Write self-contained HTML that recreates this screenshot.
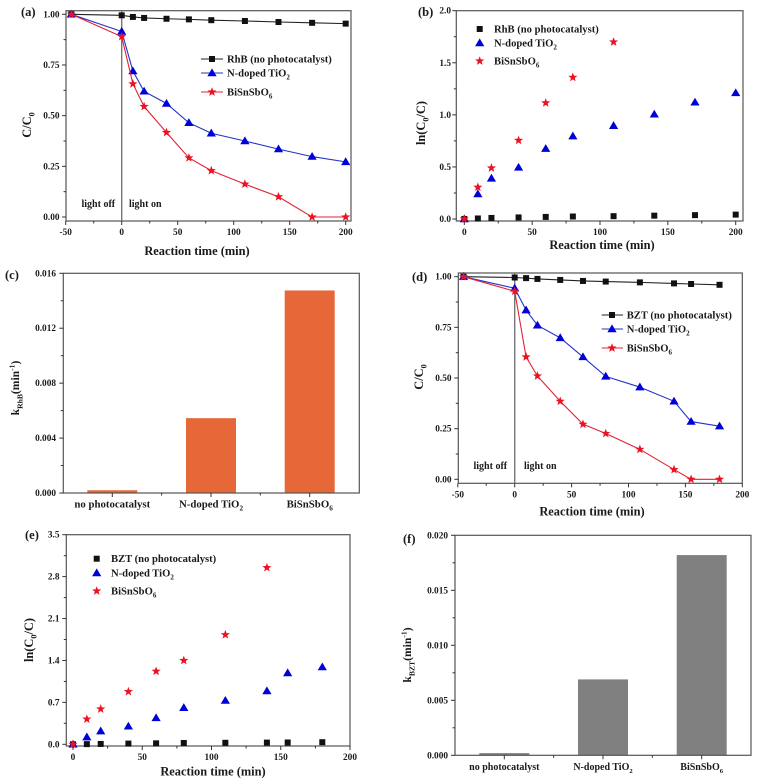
<!DOCTYPE html>
<html lang="en">
<head>
<meta charset="utf-8">
<title>Photocatalytic degradation charts</title>
<style>
html,body{margin:0;padding:0;background:#fff;width:758px;height:784px;overflow:hidden}
svg{display:block;filter:blur(0.35px)}
text{font-family:"Liberation Serif",serif;font-weight:bold;fill:#1a1a1a}
</style>
</head>
<body>
<svg id="figure" xmlns="http://www.w3.org/2000/svg" width="758" height="784" viewBox="0 0 758 784"></svg>
<script>
// ---- Panel (a) data ----
const aTimes = [-45, 0, 10, 20, 40, 60, 80, 110, 140, 170, 200];
const aControl = [1, 0.995, 0.987, 0.982, 0.978, 0.975, 0.971, 0.967, 0.962, 0.958, 0.954];
const aTiO2 = [1, 0.915, 0.72, 0.62, 0.56, 0.465, 0.413, 0.375, 0.335, 0.298, 0.272];
const aBi = [1, 0.89, 0.657, 0.545, 0.417, 0.292, 0.229, 0.162, 0.1, 0, 0];
// ---- Panel (b) data ----
const bTimes = [0, 10, 20, 40, 60, 80, 110, 140, 170, 200];
const bControl = [0, 0.005, 0.01, 0.015, 0.02, 0.024, 0.027, 0.032, 0.037, 0.042];
const bTiO2 = [0, 0.24, 0.39, 0.495, 0.675, 0.795, 0.895, 1.005, 1.12, 1.21];
const bBi = [0, 0.305, 0.49, 0.755, 1.115, 1.36, 1.7];
// ---- Panel (c) data ----
const barCategories = ["no photocatalyst", "N-doped TiO2", "BiSnSbO6"];
const cRates = [0.0002, 0.00545, 0.01475];
// ---- Panel (d) data ----
const dTimes = [-45, 0, 10, 20, 40, 60, 80, 110, 140, 155, 180];
const dControl = [1, 0.996, 0.993, 0.989, 0.984, 0.979, 0.976, 0.972, 0.967, 0.964, 0.96];
const dTiO2 = [1, 0.943, 0.835, 0.76, 0.698, 0.604, 0.508, 0.455, 0.385, 0.285, 0.262];
const dBi = [1, 0.928, 0.604, 0.51, 0.385, 0.272, 0.226, 0.148, 0.048, 0, 0];
// ---- Panel (e) data ----
const eTimes = [0, 10, 20, 40, 60, 80, 110, 140, 155, 180];
const eControl = [0, 0.003, 0.006, 0.012, 0.016, 0.022, 0.025, 0.028, 0.03, 0.035];
const eTiO2 = [0, 0.12, 0.22, 0.3, 0.44, 0.61, 0.73, 0.89, 1.19, 1.29];
const eBi = [0, 0.42, 0.59, 0.88, 1.22, 1.4, 1.83, 2.95];
// ---- Panel (f) data ----
const fRates = [0.0002, 0.0069, 0.0182];
// ---- Tick labels ----
const xTicksAD = [-50, 0, 50, 100, 150, 200];
const xTicksBE = [0, 50, 100, 150, 200];
const yTicksAD = ["0.00", "0.25", "0.50", "0.75", "1.00"];
const yTicksB = ["0.0", "0.5", "1.0", "1.5", "2.0"];
const yTicksC = ["0.000", "0.004", "0.008", "0.012", "0.016"];
const yTicksE = ["0.0", "0.7", "1.4", "2.1", "2.8", "3.5"];
const yTicksF = ["0.000", "0.005", "0.010", "0.015", "0.020"];

const NS = "http://www.w3.org/2000/svg";
const fig = document.getElementById("figure");
const COLORS = {control: "#111111", tio2: "#0000d8", bi: "#ee1122"};
const LINES = {control: "#222222", tio2: "#2233c8", bi: "#e22233"};
const TICK_SIZE = 9.3;
const TITLE_SIZE = 12.4;

function make(tag, parent, name, attrs) {
  const el = document.createElementNS(NS, tag);
  
  
  for (const k in attrs) el.setAttribute(k, attrs[k]);
  parent.appendChild(el);
  return el;
}

// rich text: segments given as [text, kind]
function label(parent, name, segs, x, y, size, anchor, rotate) {
  const attrs = {x: x, y: y, "font-size": size, "text-anchor": anchor || "start"};
  if (rotate) attrs.transform = "rotate(-90 " + x + " " + y + ")";
  const t = make("text", parent, name, attrs);
  let cur = 0;
  segs.forEach(function (s) {
    const ts = document.createElementNS(NS, "tspan");
    const off = s[1] === "sub" ? size * 0.3 : s[1] === "sup" ? -size * 0.4 : 0;
    ts.setAttribute("dy", off - cur);
    ts.setAttribute("font-size", s[1] ? size * 0.66 : size);
    cur = off;
    ts.textContent = s[0];
    t.appendChild(ts);
  });
  return t;
}
function richName(str) {
  if (str === "N-doped TiO2") return [["N-doped TiO"], ["2", "sub"]];
  if (str === "BiSnSbO6") return [["BiSnSbO"], ["6", "sub"]];
  return [[str]];
}

function marker(parent, kind, x, y, name) {
  if (kind === "control") {
    return make("rect", parent, name, {x: x - 3, y: y - 3, width: 6, height: 6, fill: COLORS.control});
  }
  if (kind === "tio2") {
    const pts = [[x, y - 4.6], [x + 4.6, y + 3.2], [x - 4.6, y + 3.2]].map(function (p) { return p.join(","); }).join(" ");
    return make("polygon", parent, name, {points: pts, fill: COLORS.tio2});
  }
  const s = [];
  for (let i = 0; i < 10; i++) {
    const r = i % 2 ? 2.0 : 4.8;
    const a = -Math.PI / 2 + i * Math.PI / 5;
    s.push((x + r * Math.cos(a)).toFixed(2) + "," + (y + r * Math.sin(a)).toFixed(2));
  }
  return make("polygon", parent, name, {points: s.join(" "), fill: COLORS.bi});
}

function linear(d0, d1, r0, r1) {
  return function (v) { return r0 + (v - d0) * (r1 - r0) / (d1 - d0); };
}

function frame(g, box) {
  make("rect", g, "plot-frame", {x: box.l, y: box.t, width: box.r - box.l, height: box.b - box.t, fill: "none", stroke: "#555", "stroke-width": 1.2});
}
function tick(g, name, x1, y1, x2, y2) {
  make("line", g, name, {x1: x1, y1: y1, x2: x2, y2: y2, stroke: "#333", "stroke-width": 1});
}

function yAxis(g, box, y, ticks, labelX, size) {
  ticks.forEach(function (lab, i) {
    const v = parseFloat(lab), py = y(v);
    tick(g, "y-tick", box.l, py, box.l - 4, py);
    label(g, "y-tick-label", [[lab]], labelX, py + 3, size, "end");
    if (i < ticks.length - 1) {
      const m = y((v + parseFloat(ticks[i + 1])) / 2);
      tick(g, "y-minor-tick", box.l, m, box.l - 2.5, m);
    }
  });
}
function xAxis(g, box, x, ticks, labelY, size) {
  ticks.forEach(function (v, i) {
    const px = x(v);
    tick(g, "x-tick", px, box.b, px, box.b + 4);
    label(g, "x-tick-label", [[String(v)]], px, labelY, size, "middle");
    if (i < ticks.length - 1) {
      const m = x((v + ticks[i + 1]) / 2);
      tick(g, "x-minor-tick", m, box.b, m, box.b + 2.5);
    }
  });
}

function scatterPanel(c) {
  const g = make("g", fig, c.name, {});
  const x = linear(c.xd[0], c.xd[1], c.xr[0], c.xr[1]);
  const y = linear(c.yd[0], c.yd[1], c.yr[0], c.yr[1]);
  frame(g, c.box);
  xAxis(g, c.box, x, c.xTicks, c.xLabelY, TICK_SIZE);
  yAxis(g, c.box, y, c.yTicks, c.yLabelX, TICK_SIZE);
  if (c.divider) {
    make("line", g, "light-on-divider", {x1: x(0), y1: c.box.t, x2: x(0), y2: c.box.b, stroke: "#777", "stroke-width": 1.4});
    label(g, "light-off-label", [["light off"]], c.divider.off, c.divider.y, 10);
    label(g, "light-on-label", [["light on"]], c.divider.on, c.divider.y, 10);
  }
  c.series.forEach(function (s) {
    const sg = make("g", g, "series-" + s.kind, {});
    if (c.lines) {
      const pts = s.values.map(function (v, i) { return x(c.times[i]).toFixed(2) + "," + y(v).toFixed(2); }).join(" ");
      make("polyline", sg, "series-line-" + s.kind, {points: pts, fill: "none", stroke: LINES[s.kind], "stroke-width": 1.1});
    }
    s.values.forEach(function (v, i) {
      marker(sg, s.kind, x(c.times[i]), y(v), "point-" + s.kind);
    });
  });
  const lg = make("g", g, "legend", {});
  c.series.forEach(function (s, i) {
    const ly = c.legend.ys[i];
    if (c.lines) {
      make("line", lg, "legend-line-" + s.kind, {x1: c.legend.lx[0], y1: ly, x2: c.legend.lx[1], y2: ly, stroke: LINES[s.kind], "stroke-width": 1.1});
    }
    marker(lg, s.kind, c.legend.mx, ly, "legend-marker-" + s.kind);
    label(lg, "legend-entry-" + s.kind, richName(s.label), c.legend.tx, ly + 3.3, 10.6);
  });
  label(g, "x-axis-title", [["Reaction time (min)"]], c.xTitle[0], c.xTitle[1], TITLE_SIZE, "middle");
  label(g, "y-axis-title", c.yTitle.segs, c.yTitle.x, c.yTitle.y, 12.4, "middle", true);
  label(g, "panel-label", [[c.tag]], c.tagPos[0], c.tagPos[1], 12.5);
}

function barPanel(c) {
  const g = make("g", fig, c.name, {});
  const y = linear(c.yd[0], c.yd[1], c.box.b, c.box.t);
  const step = (c.catR - c.catL) / (barCategories.length - 1);
  const cx = function (i) { return c.catL + step * i; };
  c.values.forEach(function (v, i) {
    make("rect", g, "bar-" + i, {x: cx(i) - c.barW / 2, y: y(v), width: c.barW, height: c.box.b - y(v), fill: c.color});
  });
  frame(g, c.box);
  yAxis(g, c.box, y, c.yTicks, c.yLabelX, TICK_SIZE);
  barCategories.forEach(function (cat, i) {
    tick(g, "x-tick", cx(i), c.box.b, cx(i), c.box.b + 4);
    if (i < barCategories.length - 1) tick(g, "x-minor-tick", cx(i) + step / 2, c.box.b, cx(i) + step / 2, c.box.b + 2.5);
    label(g, "category-label", richName(cat), cx(i), c.catY, c.catSize, "middle");
  });
  label(g, "y-axis-title", c.yTitle.segs, c.yTitle.x, c.yTitle.y, 11.6, "middle", true);
  label(g, "panel-label", [[c.tag]], c.tagPos[0], c.tagPos[1], 12.5);
}

scatterPanel({
  name: "panel-a", tag: "(a)", tagPos: [21, 16], lines: true, times: aTimes,
  box: {l: 66, r: 351, t: 10.7, b: 221},
  xd: [0, 200], xr: [121.7, 345.7], yd: [0, 1], yr: [217, 14.3],
  xTicks: xTicksAD, yTicks: yTicksAD, xLabelY: 235, yLabelX: 59.5,
  divider: {off: 81.5, on: 129, y: 207},
  series: [
    {kind: "control", label: "RhB (no photocatalyst)", values: aControl},
    {kind: "tio2", label: "N-doped TiO2", values: aTiO2},
    {kind: "bi", label: "BiSnSbO6", values: aBi}
  ],
  legend: {lx: [201, 223], mx: 212, tx: 227, ys: [59, 73, 92]},
  xTitle: [197, 255],
  yTitle: {segs: [["C/C"], ["0", "sub"]], x: 31, y: 125}
});
scatterPanel({
  name: "panel-b", tag: "(b)", tagPos: [418, 16], lines: false, times: bTimes,
  box: {l: 456.3, r: 743, t: 10.7, b: 221},
  xd: [0, 200], xr: [464.3, 735.7], yd: [0, 2], yr: [219, 10.7],
  xTicks: xTicksBE, yTicks: yTicksB, xLabelY: 235, yLabelX: 451,
  series: [
    {kind: "control", label: "RhB (no photocatalyst)", values: bControl},
    {kind: "tio2", label: "N-doped TiO2", values: bTiO2},
    {kind: "bi", label: "BiSnSbO6", values: bBi}
  ],
  legend: {mx: 479.7, tx: 494, ys: [29, 43, 61]},
  xTitle: [602, 249],
  yTitle: {segs: [["ln(C"], ["0", "sub"], ["/C)"]], x: 425, y: 123}
});
barPanel({
  name: "panel-c", tag: "(c)", tagPos: [5, 279], values: cRates, color: "#e66738",
  box: {l: 63.3, r: 359.3, t: 273.3, b: 493}, yd: [0, 0.016],
  yTicks: yTicksC, yLabelX: 56, catL: 112.3, catR: 309.7, barW: 50, catY: 507.5, catSize: 10.8,
  yTitle: {segs: [["k"], ["RhB", "sub"], ["(min"], ["-1", "sup"], [")"]], x: 19, y: 388},
});
scatterPanel({
  name: "panel-d", tag: "(d)", tagPos: [412, 281], lines: true, times: dTimes,
  box: {l: 458.3, r: 742.3, t: 273, b: 483.3},
  xd: [0, 200], xr: [514.7, 742.3], yd: [0, 1], yr: [479.3, 276.7],
  xTicks: xTicksAD, yTicks: yTicksAD, xLabelY: 497.5, yLabelX: 451.5,
  divider: {off: 473.5, on: 524, y: 469},
  series: [
    {kind: "control", label: "BZT (no photocatalyst)", values: dControl},
    {kind: "tio2", label: "N-doped TiO2", values: dTiO2},
    {kind: "bi", label: "BiSnSbO6", values: dBi}
  ],
  legend: {lx: [601.7, 623], mx: 612, tx: 626.7, ys: [315, 329, 348]},
  xTitle: [592, 515.5],
  yTitle: {segs: [["C/C"], ["0", "sub"]], x: 423, y: 377}
});
scatterPanel({
  name: "panel-e", tag: "(e)", tagPos: [25, 539], lines: false, times: eTimes,
  box: {l: 66.3, r: 350, t: 534.7, b: 746},
  xd: [0, 200], xr: [73, 350], yd: [0, 3.5], yr: [744.3, 534.7],
  xTicks: xTicksBE, yTicks: yTicksE, xLabelY: 760, yLabelX: 59.5,
  series: [
    {kind: "control", label: "BZT (no photocatalyst)", values: eControl},
    {kind: "tio2", label: "N-doped TiO2", values: eTiO2},
    {kind: "bi", label: "BiSnSbO6", values: eBi}
  ],
  legend: {mx: 96.7, tx: 111, ys: [558.7, 573, 591]},
  xTitle: [213, 775.5],
  yTitle: {segs: [["ln(C"], ["0", "sub"], ["/C)"]], x: 33, y: 640}
});
barPanel({
  name: "panel-f", tag: "(f)", tagPos: [403, 543], values: fRates, color: "#808080",
  box: {l: 455, r: 751, t: 535.3, b: 755.3}, yd: [0, 0.02],
  yTicks: yTicksF, yLabelX: 448, catL: 504.3, catR: 701.7, barW: 50, catY: 770, catSize: 10,
  yTitle: {segs: [["k"], ["BZT", "sub"], ["(min"], ["-1", "sup"], [")"]], x: 411, y: 655},
});
</script>
</body>
</html>
